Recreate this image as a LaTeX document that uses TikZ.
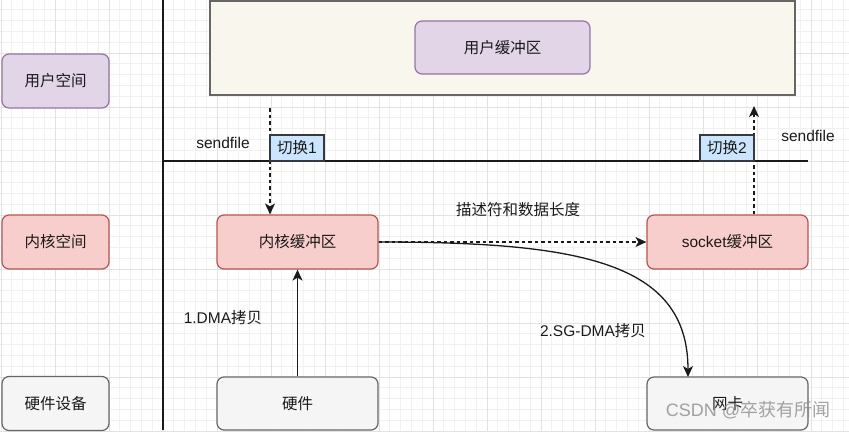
\documentclass[tikz,border=0pt]{standalone}
\usepackage{fontspec}
\setmainfont{Liberation Sans}
\newfontfamily\cjk{Noto Sans CJK SC}
\usetikzlibrary{arrows.meta}
\definecolor{purpfill}{HTML}{E1D5E7}
\definecolor{purpline}{HTML}{9673A6}
\definecolor{redfill}{HTML}{F8CECC}
\definecolor{redline}{HTML}{B85450}
\definecolor{greyfill}{HTML}{F5F5F5}
\definecolor{greyline}{HTML}{666666}
\definecolor{bigfill}{HTML}{F9F7ED}
\definecolor{bluefill}{HTML}{CCE5FF}
\definecolor{blueline}{HTML}{36393D}
\definecolor{txt}{HTML}{1A1A1A}
\definecolor{gridminor}{HTML}{F1F1F1}
\definecolor{gridmajor}{HTML}{E2E2E2}
\begin{document}
\begin{tikzpicture}[x=1pt,y=-1pt,
  font=\fontsize{15.5}{18}\selectfont, text=txt,
  rbox/.style={draw, rounded corners=7pt, line width=1.2pt, inner sep=0pt,
    minimum width=161pt, minimum height=54pt},
  lbox/.style={rbox, minimum width=107pt},
  purp/.style={fill=purpfill, draw=purpline},
  redb/.style={fill=redfill, draw=redline},
  greyb/.style={fill=greyfill, draw=greyline},
  swbox/.style={draw=blueline, fill=bluefill, line width=1.2pt, inner sep=0pt,
    minimum width=54pt, minimum height=26pt},
  axis/.style={draw=txt, line width=1.4pt},
  arr/.style={draw=txt, line width=1.3pt, -{Stealth[length=11pt,width=10pt,inset=3pt]}},
  darr/.style={arr, dash pattern=on 3.5pt off 3pt},
  lbl/.style={inner sep=1pt}
]
\useasboundingbox (0,0) rectangle (849,432);
% background grid
\fill[white] (0,0) rectangle (849,432);
\foreach \i in {0,...,79} {
  \draw[gridminor, line width=0.7pt] ({1+10.8*\i},0) -- ({1+10.8*\i},432);
}
\foreach \j in {0,...,40} {
  \draw[gridminor, line width=0.7pt] (0,{-1+10.8*\j}) -- (849,{-1+10.8*\j});
}
\foreach \i in {0,...,15} {
  \draw[gridmajor, line width=0.7pt] ({1+54*\i},0) -- ({1+54*\i},432);
}
\foreach \j in {0,...,8} {
  \draw[gridmajor, line width=0.7pt] (0,{-1+54*\j}) -- (849,{-1+54*\j});
}

% left labels
\node[lbox, purp] (us) at (55.5,81) {\cjk 用户空间};
\node[lbox, redb] (ks) at (55.5,242) {\cjk 内核空间};
\node[lbox, greyb] (hd) at (55.5,403.5) {\cjk 硬件设备};

% axes
\coordinate (vtop) at (163,0);
\coordinate (vbot) at (163,430);
\coordinate (hright) at (808,161);
\draw[axis] (vtop) -- (vbot);
\draw[axis] (vtop |- hright) -- (hright);

% user space big box
\node[draw=greyline, fill=bigfill, line width=1.2pt, minimum width=585pt,
  minimum height=94pt, inner sep=0pt] (ubig) at (502.5,48) {};
\node[rbox, purp, minimum width=175pt, minimum height=53pt] (ubuf) at (502.5,47.5) {\cjk 用户缓冲区};

% kernel / hardware boxes
\node[rbox, redb] (kbuf) at (297.5,242) {\cjk 内核缓冲区};
\node[rbox, redb] (sbuf) at (727.5,242) {socket{\cjk 缓冲区}};
\node[rbox, greyb, minimum height=53pt] (hw) at (297.5,403.5) {\cjk 硬件};
\node[rbox, greyb, minimum height=53pt] (nic) at (727.5,403.5) {\cjk 网卡};

% dashed switch arrows
\coordinate (d1s) at (270,108);
\coordinate (d2e) at (754,106);
\draw[darr] (d1s) -- (d1s |- kbuf.north);
\draw[darr] (d2e |- sbuf.north) -- (d2e);

% switch boxes
\node[swbox] (sw1) at (297,148) {{\cjk 切换}1};
\node[swbox] (sw2) at (727,148) {{\cjk 切换}2};

% sendfile labels
\node[lbl] (sf1) at (223,143) {sendfile};
\node[lbl] (sf2) at (808,136) {sendfile};

% DMA arrow
\draw[arr] (hw.north) -- (kbuf.south);
\node[lbl] (dma) at (223,318) {1.DMA{\cjk 拷贝}};

% descriptor dashed arrow
\draw[darr] (kbuf.east) -- (sbuf.west);
\node[lbl] (desc) at (518,210) {\cjk 描述符和数据长度};

% SG-DMA curved arrow
\coordinate (nictop) at (688,377);
\draw[arr] (kbuf.east) .. controls (580,242) and (688,262) .. (nictop);
\node[lbl] (sg) at (593,331) {2.SG-DMA{\cjk 拷贝}};

% watermark
\node[text=black!45, opacity=0.8, font=\fontsize{18}{20}\selectfont] (wm) at (748,410) {CSDN @{\cjk 卒获有所闻}};
\end{tikzpicture}
\end{document}
